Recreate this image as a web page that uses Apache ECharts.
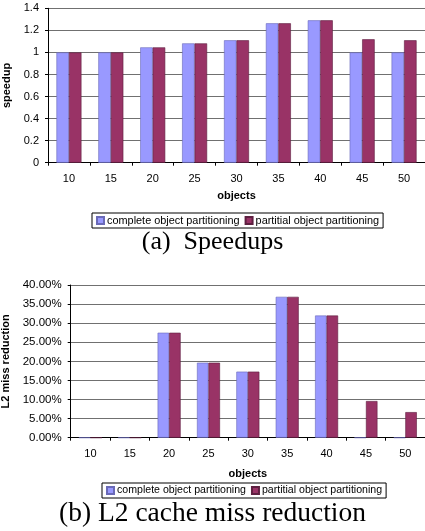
<!DOCTYPE html>
<html>
<head>
<meta charset="utf-8">
<script src="https://cdn.jsdelivr.net/npm/echarts@6/dist/echarts.min.js"></script>
<style>
html,body{margin:0;padding:0;background:#fff;}
#c{width:425px;height:531px;}
</style>
</head>
<body>
<div id="c"></div>
<script>
const categories = ['10','15','20','25','30','35','40','45','50'];
const seriesNames = ['complete object partitioning','partitial object partitioning'];
const speedupComplete = [1.0, 1.0, 1.046, 1.082, 1.11, 1.264, 1.291, 1.0, 1.0];
const speedupPartial  = [1.0, 1.0, 1.046, 1.082, 1.11, 1.264, 1.291, 1.119, 1.11];
const missComplete = [0, 0, 27.5, 19.65, 17.3, 36.9, 32.0, 0, 0];
const missPartial  = [0, 0, 27.5, 19.65, 17.3, 36.9, 32.0, 9.6, 6.7];
const speedupTicks = {min:0, max:1.4, interval:0.2};
const missTicks = {min:0, max:40, interval:5};
const captions = ['(a)  Speedups', '(b) L2 cache miss reduction'];

const FONT = 'Liberation Sans, Arial, sans-serif';
const SERIF = 'Liberation Serif, Times New Roman, serif';
const blue = '#9999ff', red = '#993366';

const chart = echarts.init(document.getElementById('c'), null, {renderer:'canvas'});

function xAxis(gridIndex, gap){
  return {
    type:'category', gridIndex, data:categories,
    axisLine:{lineStyle:{color:'#000', width:1}},
    axisTick:{show:true, length:3, lineStyle:{color:'#000'}},
    axisLabel:{color:'#000', fontFamily:FONT, fontSize:11, margin:11},
    name:'objects', nameLocation:'middle', nameGap:gap,
    nameTextStyle:{color:'#000', fontFamily:FONT, fontSize:11, fontWeight:'bold'}
  };
}
function yAxis(gridIndex, t, name, gap, fmt, size){
  return {
    type:'value', gridIndex, min:t.min, max:t.max, interval:t.interval,
    axisLine:{show:true, lineStyle:{color:'#000', width:1}},
    axisTick:{show:true, length:3, lineStyle:{color:'#000'}},
    axisLabel:{color:'#000', fontFamily:FONT, fontSize:size, margin:9, formatter:fmt},
    splitLine:{show:true, lineStyle:{color:'#707070', width:1}},
    name, nameLocation:'middle', nameGap:gap, nameRotate:90,
    nameTextStyle:{color:'#000', fontFamily:FONT, fontSize:11, fontWeight:'bold'}
  };
}
function bar(name, data, color, border, xi, w){
  return {
    type:'bar', name, data, xAxisIndex:xi, yAxisIndex:xi,
    barWidth:w, barGap:'0%',
    itemStyle:{color, borderColor:border, borderWidth:0.6},
    emphasis:{disabled:true}, animation:false
  };
}
function legend(top, left, size){
  return {
    data:seriesNames, top, left, orient:'horizontal',
    itemWidth:7, itemHeight:7, itemGap:5,
    icon:'rect', padding:[2,4,2,4],
    borderColor:'#000', borderWidth:1,
    textStyle:{color:'#000', fontFamily:FONT, fontSize:size, padding:[0,0,0,-2]},
    selectedMode:false
  };
}

chart.setOption({
  animation:false,
  backgroundColor:'#fff',
  grid:[
    {left:48, top:8.3, right:0, height:154.4, containLabel:false, outerBoundsMode:'none'},
    {left:70.7, top:285, right:0, height:152.7, containLabel:false, outerBoundsMode:'none'}
  ],
  xAxis:[xAxis(0,28), xAxis(1,31)],
  yAxis:[
    yAxis(0, speedupTicks, 'speedup', 32, v=>String(+v.toFixed(1)), 11),
    yAxis(1, missTicks, 'L2 miss reduction', 56, v=>v.toFixed(2)+'%', 11.5)
  ],
  legend:[legend(213, 92, 10.9), legend(483, 102, 10.6)],
  series:[
    bar(seriesNames[0], speedupComplete, blue, '#6a6ab8', 0, 12.5),
    bar(seriesNames[1], speedupPartial, red, '#5e1f40', 0, 12.5),
    bar(seriesNames[0], missComplete, blue, '#6a6ab8', 1, 11.5),
    bar(seriesNames[1], missPartial, red, '#5e1f40', 1, 11.5)
  ],
  graphic:[
    {type:'text', left:'center', top:229, style:{text:captions[0], font:'26px '+SERIF, fill:'#000'}},
    {type:'text', left:'center', top:500, style:{text:captions[1], font:'27.5px '+SERIF, fill:'#000'}}
  ]
});
</script>
</body>
</html>
